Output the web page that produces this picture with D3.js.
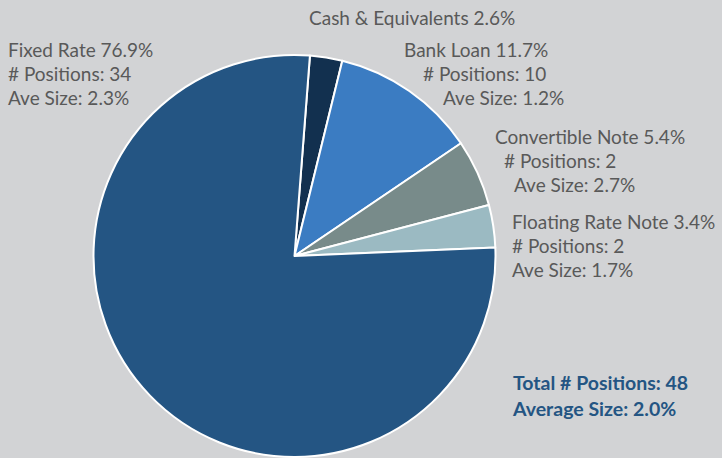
<!DOCTYPE html>
<html lang="en">
<head>
<meta charset="UTF-8">
<title>portfolio pie</title>
<style>
	body { margin: 0; background: #d2d3d5; }
	svg { display: block; }
	text { font-family: Lato, "Open Sans", sans-serif; }
</style>
</head>
<body>
<svg id="chart" width="722" height="458"></svg>
<script src="https://d3js.org/d3.v7.min.js"></script>
<script>
	// slices in clockwise order, starting just right of 12 o'clock
	let categories = ["Cash & Equivalents", "Bank Loan", "Convertible Note", "Floating Rate Note", "Fixed Rate"];
	let shares = [2.6, 11.7, 5.4, 3.4, 76.9];
	let positions = [null, 10, 2, 2, 34];
	let aveSizes = [null, 1.2, 2.7, 1.7, 2.3];
	let colors = ["#12304f", "#3b7cc2", "#788b8a", "#9bbac2", "#245583"];
	let totalPositions = 48;
	let averageSize = 2.0;

	// label anchor for each slice (left x, first line centre y) and per-line indent
	let labelLayout = [
		{x: 309, y: 18, indent: [0]},
		{x: 404, y: 50, indent: [0, 19, 39]},
		{x: 495, y: 137, indent: [0, 9, 19]},
		{x: 512, y: 222, indent: [0, 0, 0]},
		{x: 8, y: 50, indent: [0, 0, 0]}
	];

	let svg = d3.select("#chart");
	let cx = 294.5, cy = 256, r = 201;

	let pie = d3.pie()
		.sort(null)
		.value(d => d)
		.startAngle(4.4 * Math.PI / 180)
		.endAngle(4.4 * Math.PI / 180 + 2 * Math.PI);
	let arc = d3.arc().innerRadius(0).outerRadius(r);

	let g = svg.append("g").attr("transform", `translate(${cx},${cy})`);
	g.selectAll("path")
		.data(pie(shares))
		.enter()
		.append("path")
		.attr("d", arc)
		.attr("fill", (d, i) => colors[i])
		.attr("stroke", "#ffffff")
		.attr("stroke-width", 2)
		.attr("stroke-linejoin", "round");

	let lineH = 24;
	categories.forEach((c, i) => {
		let lines = [c + " " + shares[i].toFixed(1) + "%"];
		if (positions[i] != null) {
			lines.push("# Positions: " + positions[i]);
			lines.push("Ave Size: " + aveSizes[i].toFixed(1) + "%");
		}
		let L = labelLayout[i];
		let t = svg.append("text")
			.attr("fill", "#595959")
			.attr("font-size", 19);
		lines.forEach((s, k) => {
			t.append("tspan")
				.attr("x", L.x + L.indent[k])
				.attr("y", L.y + k * lineH)
				.attr("dy", "0.35em")
				.text(s);
		});
	});

	let tot = svg.append("text")
		.attr("fill", "#245583")
		.attr("font-size", 19.5)
		.attr("font-weight", "bold");
	tot.append("tspan").attr("x", 513).attr("y", 383).attr("dy", "0.35em").text("Total # Positions: " + totalPositions);
	tot.append("tspan").attr("x", 513).attr("y", 409).attr("dy", "0.35em").text("Average Size: " + averageSize.toFixed(1) + "%");
</script>
</body>
</html>
